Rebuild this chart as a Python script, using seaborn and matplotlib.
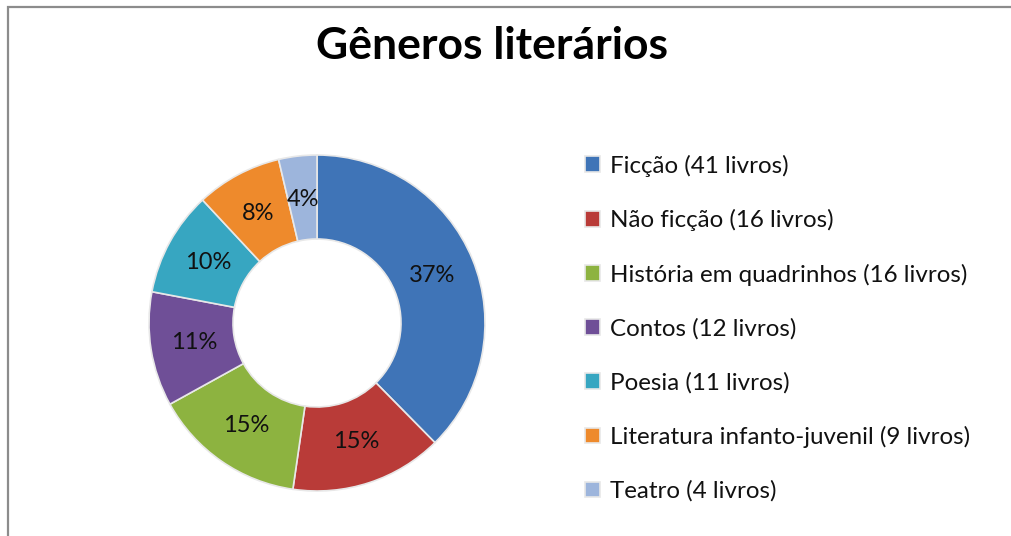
import matplotlib
matplotlib.use("Agg")
import matplotlib.pyplot as plt
import seaborn as sns
import numpy as np
from matplotlib.patches import Rectangle

# data
generos = ["Ficção", "Não ficção", "História em quadrinhos", "Contos",
           "Poesia", "Literatura infanto-juvenil", "Teatro"]
livros = [41, 16, 16, 12, 11, 9, 4]
pct_labels = ["37%", "15%", "15%", "11%", "10%", "8%", "4%"]
cores = ["#3f74b7", "#b93b38", "#8db340", "#6f4f97", "#37a6c1", "#ee8a2c", "#9db5dc"]

sns.set_style("white")
plt.rcParams['font.family'] = ['Lato', 'DejaVu Sans']

fig = plt.figure(figsize=(10.11, 5.36), dpi=100)
W, H = 1011, 536

# chart border (cut at right/bottom like the screenshot)
fig.patches.append(Rectangle((8 / W, -0.1), 2, (H - 7) / H + 0.1,
                             transform=fig.transFigure, fill=False,
                             edgecolor="#8c8c8c", linewidth=1.6))

cx, cy, R = 317, 323, 168
ax = fig.add_axes([(cx - R) / W, (H - cy - R) / H, 2 * R / W, 2 * R / H])

wedges, _ = ax.pie(livros, colors=cores, startangle=90, counterclock=False,
                   radius=1.0,
                   wedgeprops=dict(width=0.5, edgecolor="#e8e8e8", linewidth=1.2))
ax.set_xlim(-1, 1)
ax.set_ylim(-1, 1)
ax.set_aspect("equal")
ax.axis("off")

for w, lab in zip(wedges, pct_labels):
    ang = np.deg2rad((w.theta1 + w.theta2) / 2)
    r = 0.74
    ax.text(r * np.cos(ang), r * np.sin(ang), lab, ha="center", va="center",
            fontsize=17, color="#111111")

fig.text(492 / W, 1 - 46 / H, "Gêneros literários", ha="center", va="center",
         fontsize=32, fontweight="bold", color="black")

leg_labels = [f"{g} ({n} livros)" for g, n in zip(generos, livros)]
leg = fig.legend(wedges, leg_labels, loc="upper left",
                 bbox_to_anchor=(575 / W, 1 - 145 / H), frameon=False,
                 fontsize=17.4, handlelength=0.62, handleheight=0.62,
                 handletextpad=0.42, labelspacing=1.34, borderaxespad=0)
for t in leg.get_texts():
    t.set_color("#111111")

fig.savefig("out.png", dpi=100)
